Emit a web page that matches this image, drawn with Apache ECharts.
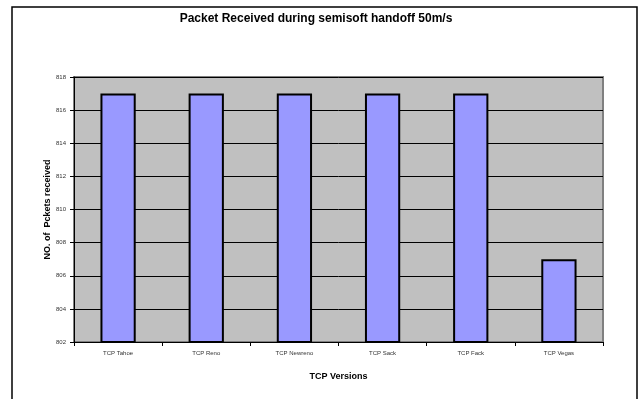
<!DOCTYPE html>
<html>
<head>
<meta charset="utf-8">
<script src="https://cdn.jsdelivr.net/npm/echarts@6/dist/echarts.min.js"></script>
<style>
  html, body { margin: 0; padding: 0; background: #fff; }
  #chart { width: 639px; height: 399px; }
</style>
</head>
<body>
<div id="chart"></div>
<script>
// TCP variants on x axis
const categories = ["TCP Tahoe", "TCP Reno", "TCP Newreno", "TCP Sack", "TCP Fack", "TCP Vegas"];
// packets received per variant
const packets = [817, 817, 817, 817, 817, 807];

const chart = echarts.init(document.getElementById("chart"));
const labelFont = "Liberation Sans, Arial, sans-serif";

chart.setOption({
  backgroundColor: "#ffffff",
  animation: false,
  title: {
    text: "Packet Received during semisoft handoff 50m/s",
    left: 311,
    textAlign: "center",
    top: 8,
    textStyle: { fontFamily: labelFont, fontSize: 12, fontWeight: "bold", color: "#000" },
  },
  graphic: [
    {
      // outer chart frame (bottom edge runs off the picture)
      type: "rect",
      shape: { x: 12, y: 7, width: 625, height: 400 },
      style: { fill: null, stroke: "#000", lineWidth: 1.5 },
      silent: true,
    },
  ],
  grid: {
    left: 74,
    right: 36,
    top: 77,
    bottom: 57,
    show: true,
    backgroundColor: "#c0c0c0",
    borderColor: "#808080",
    borderWidth: 2,
  },
  xAxis: {
    type: "category",
    data: categories,
    name: "TCP Versions",
    nameLocation: "middle",
    nameGap: 30,
    nameTextStyle: { fontFamily: labelFont, fontSize: 9, fontWeight: "bold", color: "#000" },
    axisLine: { lineStyle: { color: "#000", width: 1 } },
    axisTick: { show: true, length: 4, lineStyle: { color: "#000" } },
    axisLabel: { fontFamily: labelFont, fontSize: 6, color: "#333", margin: 8 },
  },
  yAxis: {
    type: "value",
    min: 802,
    max: 818,
    interval: 2,
    name: "NO. of  Pckets received",
    nameLocation: "middle",
    nameGap: 22,
    nameMoveOverlap: false,
    nameTextStyle: { fontFamily: labelFont, fontSize: 9, fontWeight: "bold", color: "#000" },
    axisLine: { show: true, lineStyle: { color: "#000", width: 1 } },
    axisTick: { show: true, length: 4, lineStyle: { color: "#000" } },
    axisLabel: { fontFamily: labelFont, fontSize: 6, color: "#333", margin: 8 },
    splitLine: { show: true, lineStyle: { color: "#000", width: 1 } },
  },
  series: [
    {
      type: "bar",
      data: packets,
      barWidth: "40%",
      itemStyle: { color: "#9999ff", borderColor: "#000", borderWidth: 2 },
    },
  ],
});
</script>
</body>
</html>
